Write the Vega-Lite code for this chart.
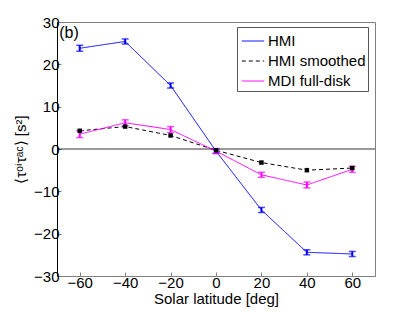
{
  "$schema": "https://vega.github.io/schema/vega-lite/v6.json",
  "width": 318,
  "height": 254,
  "autosize": "none",
  "padding": {"left": 57, "top": 22, "right": 40, "bottom": 36},
  "config": {
    "font": "Liberation Sans",
    "view": {"stroke": "#808080", "strokeWidth": 1},
    "axis": {"labelFont": "Liberation Sans", "titleFont": "Liberation Sans", "labelColor": "#000", "titleColor": "#000", "titleFontWeight": "normal", "grid": false}
  },
  "datasets": {
    "pts": [
      {"lat": -60, "val": 23.8, "lo": 23.1, "hi": 24.5, "series": "HMI"},
      {"lat": -40, "val": 25.4, "lo": 24.8, "hi": 26.0, "series": "HMI"},
      {"lat": -20, "val": 15.0, "lo": 14.4, "hi": 15.6, "series": "HMI"},
      {"lat": 0, "val": -0.5, "lo": -1.0, "hi": 0.0, "series": "HMI"},
      {"lat": 20, "val": -14.4, "lo": -15.0, "hi": -13.8, "series": "HMI"},
      {"lat": 40, "val": -24.4, "lo": -25.0, "hi": -23.8, "series": "HMI"},
      {"lat": 60, "val": -24.8, "lo": -25.4, "hi": -24.2, "series": "HMI"},
      {"lat": -60, "val": 4.3, "lo": 4.1, "hi": 4.5, "series": "HMI smoothed"},
      {"lat": -40, "val": 5.3, "lo": 5.1, "hi": 5.5, "series": "HMI smoothed"},
      {"lat": -20, "val": 3.2, "lo": 3.0, "hi": 3.4, "series": "HMI smoothed"},
      {"lat": 0, "val": -0.3, "lo": -0.5, "hi": -0.1, "series": "HMI smoothed"},
      {"lat": 20, "val": -3.2, "lo": -3.4, "hi": -3.0, "series": "HMI smoothed"},
      {"lat": 40, "val": -5.0, "lo": -5.2, "hi": -4.8, "series": "HMI smoothed"},
      {"lat": 60, "val": -4.5, "lo": -4.7, "hi": -4.3, "series": "HMI smoothed"},
      {"lat": -60, "val": 3.5, "lo": 2.7, "hi": 4.3, "series": "MDI full-disk"},
      {"lat": -40, "val": 6.2, "lo": 5.5, "hi": 6.9, "series": "MDI full-disk"},
      {"lat": -20, "val": 4.6, "lo": 3.9, "hi": 5.3, "series": "MDI full-disk"},
      {"lat": 0, "val": -0.5, "lo": -1.1, "hi": 0.1, "series": "MDI full-disk"},
      {"lat": 20, "val": -6.1, "lo": -6.7, "hi": -5.5, "series": "MDI full-disk"},
      {"lat": 40, "val": -8.5, "lo": -9.2, "hi": -7.8, "series": "MDI full-disk"},
      {"lat": 60, "val": -4.8, "lo": -5.5, "hi": -4.1, "series": "MDI full-disk"}
    ]
  },
  "data": {"name": "pts"},
  "layer": [
    {
      "data": {"values": [{"z": 0}]},
      "mark": {"type": "rule", "color": "#000", "strokeWidth": 0.8},
      "encoding": {"y": {"field": "z", "type": "quantitative"}}
    },
    {
      "mark": {"type": "line", "strokeWidth": 1},
      "encoding": {
        "x": {"field": "lat", "type": "quantitative", "scale": {"domain": [-70, 70], "nice": false},
              "axis": {"values": [-60, -40, -20, 0, 20, 40, 60], "title": "Solar latitude [deg]", "labelFontSize": 15, "titleFontSize": 15, "tickSize": -4, "tickColor": "#808080", "domainColor": "#808080", "labelPadding": 3, "titlePadding": 1}},
        "y": {"field": "val", "type": "quantitative", "scale": {"domain": [-30, 30], "nice": false},
              "axis": {"values": [-30, -20, -10, 0, 10, 20, 30], "title": "⟨τᵒⁱτᵃᶜ⟩ [s²]", "labelFontSize": 15, "titleFontSize": 15, "tickSize": -4, "tickColor": "#808080", "domainColor": "#000", "labelPadding": 2, "titlePadding": 5}},
        "color": {"field": "series", "type": "nominal", "title": null,
                  "scale": {"domain": ["HMI", "HMI smoothed", "MDI full-disk"], "range": ["#0000ff", "#000000", "#ff00ff"]},
                  "legend": {"orient": "none", "legendX": 180, "legendY": 5, "labelFontSize": 15, "labelColor": "#000", "strokeColor": "#555", "fillColor": "#fff", "padding": 2, "symbolSize": 500, "symbolStrokeWidth": 1, "rowPadding": -3, "labelOffset": 3, "symbolOffset": 2, "cornerRadius": 0}},
        "strokeDash": {"field": "series", "type": "nominal", "title": null,
                       "scale": {"domain": ["HMI", "HMI smoothed", "MDI full-disk"], "range": [[1, 0], [4, 3], [1, 0]]}}
      }
    },
    {
      "transform": [{"filter": "datum.series != 'HMI smoothed'"}],
      "mark": {"type": "rule", "strokeWidth": 2},
      "encoding": {
        "x": {"field": "lat", "type": "quantitative"},
        "y": {"field": "lo", "type": "quantitative"},
        "y2": {"field": "hi"},
        "color": {"field": "series", "type": "nominal", "legend": null}
      }
    },
    {
      "transform": [{"filter": "datum.series != 'HMI smoothed'"}],
      "mark": {"type": "tick", "orient": "horizontal", "size": 7, "thickness": 1.5},
      "encoding": {
        "x": {"field": "lat", "type": "quantitative"},
        "y": {"field": "lo", "type": "quantitative"},
        "color": {"field": "series", "type": "nominal", "legend": null}
      }
    },
    {
      "transform": [{"filter": "datum.series != 'HMI smoothed'"}],
      "mark": {"type": "tick", "orient": "horizontal", "size": 7, "thickness": 1.5},
      "encoding": {
        "x": {"field": "lat", "type": "quantitative"},
        "y": {"field": "hi", "type": "quantitative"},
        "color": {"field": "series", "type": "nominal", "legend": null}
      }
    },
    {
      "transform": [{"filter": "datum.series == 'HMI smoothed'"}],
      "mark": {"type": "square", "size": 20, "filled": true, "opacity": 1, "color": "#000"},
      "encoding": {
        "x": {"field": "lat", "type": "quantitative"},
        "y": {"field": "val", "type": "quantitative"}
      }
    },
    {
      "data": {"values": [{"t": "(b)", "lat": -69, "val": 29.3}]},
      "mark": {"type": "text", "align": "left", "baseline": "top", "fontSize": 16, "color": "#000"},
      "encoding": {
        "x": {"field": "lat", "type": "quantitative"},
        "y": {"field": "val", "type": "quantitative"},
        "text": {"field": "t"}
      }
    }
  ]
}
